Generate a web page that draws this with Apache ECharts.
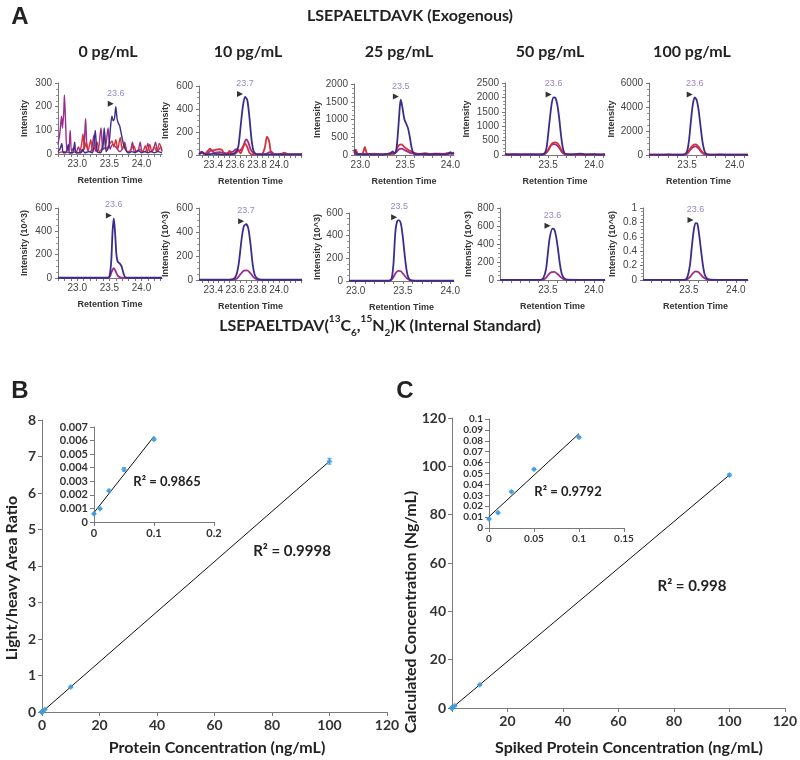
<!DOCTYPE html>
<html><head><meta charset="utf-8">
<script src="https://cdn.jsdelivr.net/npm/echarts@6/dist/echarts.min.js"></script>
<style>html,body{margin:0;padding:0;background:#fff}#c{width:800px;height:760px}</style>
</head><body><div id="c"></div>
<script>
// ================= DATA =================
const concTitles = ['0 pg/mL', '10 pg/mL', '25 pg/mL', '50 pg/mL', '100 pg/mL'];
const peakLabelsExo = ['23.6', '23.7', '23.5', '23.6', '23.6'];
const peakLabelsIS = ['23.6', '23.7', '23.5', '23.6', '23.6'];

// axis ranges (retention time) and tick labels
const xRangeExo = [[22.7, 24.32], [23.27, 24.21], [22.93, 24.04], [23.03, 24.12], [23.10, 24.14]];
const xRangeIS = [[22.7, 24.32], [23.27, 24.21], [22.93, 24.04], [22.98, 24.12], [23.01, 24.13]];
const xLabelsExo = [[23.0, 23.5, 24.0], [23.4, 23.6, 23.8, 24.0], [23.0, 23.5, 24.0], [23.5, 24.0], [23.5, 24.0]];
const xLabelsIS = [[23.0, 23.5, 24.0], [23.4, 23.6, 23.8, 24.0], [23.0, 23.5, 24.0], [23.5, 24.0], [23.5, 24.0]];
const yMaxExo = [300, 600, 2000, 2500, 6000];
const yIntExo = [100, 200, 500, 500, 2000];
const yMaxIS = [600, 600, 600, 800, 1];
const yIntIS = [200, 200, 200, 200, 0.2];
const yNameIS = ['Intensity (10^3)', 'Intensity (10^3)', 'Intensity (10^3)', 'Intensity (10^3)', 'Intensity (10^6)'];

// Exogenous traces [retention time, intensity]
const exo0Blue = [[22.70,10],[22.73,20],[22.76,45],[22.78,5],[22.82,5],[22.86,40],[22.88,5],[22.93,5],[22.96,50],[22.98,5],[23.05,5],[23.08,20],[23.12,5],[23.18,10],[23.24,5],[23.28,100],[23.31,10],[23.36,5],[23.40,30],[23.42,110],[23.45,10],[23.49,30],[23.52,120],[23.54,160],[23.56,140],[23.58,150],[23.60,200],[23.62,150],[23.64,130],[23.66,120],[23.69,80],[23.72,40],[23.75,20],[23.80,5],[23.85,10],[23.90,5],[23.95,15],[24.00,5],[24.05,10],[24.10,5],[24.15,10],[24.20,5],[24.25,10],[24.32,5]];
const exo0Red = [[22.70,5],[22.80,10],[22.90,5],[22.98,10],[23.02,5],[23.06,30],[23.09,85],[23.11,20],[23.14,50],[23.17,15],[23.21,60],[23.24,10],[23.28,30],[23.31,50],[23.34,10],[23.38,20],[23.42,90],[23.45,20],[23.50,40],[23.54,55],[23.57,30],[23.60,60],[23.63,20],[23.67,70],[23.70,20],[23.74,40],[23.78,10],[23.83,15],[23.88,35],[23.92,10],[23.97,20],[24.02,10],[24.06,35],[24.09,10],[24.13,40],[24.16,10],[24.20,30],[24.24,10],[24.28,45],[24.32,15]];
const exo0Purple = [[22.70,40],[22.73,90],[22.755,160],[22.77,110],[22.79,180],[22.80,250],[22.82,120],[22.84,15],[22.87,20],[22.89,100],[22.91,10],[22.95,30],[22.98,5],[23.02,30],[23.05,5],[23.10,20],[23.13,150],[23.15,30],[23.18,10],[23.22,15],[23.26,80],[23.29,10],[23.33,20],[23.37,110],[23.40,20],[23.44,30],[23.48,110],[23.51,20],[23.55,40],[23.60,30],[23.66,10],[23.70,20],[23.74,50],[23.77,10],[23.82,10],[23.86,50],[23.89,10],[23.94,10],[23.98,50],[24.01,10],[24.06,10],[24.10,45],[24.13,10],[24.18,15],[24.22,50],[24.25,10],[24.30,30],[24.32,10]];

const exo10Blue = [[23.27,5],[23.30,25],[23.33,5],[23.40,10],[23.50,5],[23.58,10],[23.61,30],[23.63,80],[23.65,250],[23.67,420],[23.69,505],[23.71,480],[23.73,330],[23.75,130],[23.77,30],[23.80,5],[23.90,5],[24.00,5],[24.10,5],[24.21,5]];
const exo10Red = [[23.27,5],[23.30,20],[23.32,5],[23.35,35],[23.37,55],[23.39,40],[23.42,45],[23.45,50],[23.48,45],[23.50,10],[23.53,15],[23.55,35],[23.57,5],[23.60,10],[23.63,35],[23.65,15],[23.67,60],[23.69,100],[23.71,70],[23.73,20],[23.76,5],[23.84,5],[23.87,60],[23.89,160],[23.91,120],[23.93,15],[23.97,5],[24.02,10],[24.05,20],[24.08,5],[24.21,5]];
const exo10Purple = [[23.27,10],[23.29,30],[23.31,10],[23.35,15],[23.38,40],[23.41,20],[23.46,25],[23.52,15],[23.58,30],[23.61,50],[23.64,40],[23.67,70],[23.70,135],[23.72,110],[23.74,50],[23.77,15],[23.82,5],[23.88,10],[23.93,30],[23.96,5],[24.05,5],[24.21,5]];

const exo25Blue = [[22.93,150],[22.95,60],[22.97,20],[23.00,30],[23.05,10],[23.10,25],[23.15,10],[23.20,20],[23.25,10],[23.30,30],[23.34,60],[23.36,100],[23.38,40],[23.40,150],[23.42,700],[23.44,1400],[23.45,1560],[23.47,1300],[23.49,1000],[23.51,880],[23.53,750],[23.55,500],[23.57,200],[23.59,50],[23.62,20],[23.70,30],[23.78,15],[23.85,30],[23.92,15],[23.98,40],[24.00,80],[24.02,50],[24.04,70]];
const exo25Red = [[22.93,60],[22.95,150],[22.97,40],[23.00,20],[23.03,60],[23.05,230],[23.07,60],[23.10,20],[23.15,40],[23.20,20],[23.30,30],[23.38,40],[23.41,200],[23.43,280],[23.46,300],[23.48,250],[23.50,200],[23.53,150],[23.57,100],[23.60,60],[23.65,30],[23.72,50],[23.78,30],[23.85,40],[23.92,30],[23.98,60],[24.02,30],[24.04,50]];
const exo25Purple = [[22.93,30],[22.98,20],[23.05,30],[23.12,15],[23.25,20],[23.35,30],[23.40,80],[23.43,160],[23.46,180],[23.49,140],[23.53,90],[23.57,50],[23.62,20],[23.70,15],[23.80,10],[23.90,20],[24.00,40],[24.04,30]];

const exo50Blue = [[23.03,40],[23.05,10],[23.10,20],[23.20,15],[23.30,25],[23.40,15],[23.45,30],[23.48,200],[23.50,700],[23.52,1300],[23.54,1800],[23.56,2000],[23.58,1980],[23.60,1750],[23.62,1300],[23.64,700],[23.66,250],[23.68,60],[23.72,20],[23.80,30],[23.85,50],[23.90,20],[24.00,30],[24.05,15],[24.12,25]];
const exo50Red = [[23.03,30],[23.10,15],[23.30,20],[23.45,30],[23.49,120],[23.52,300],[23.55,420],[23.58,440],[23.61,380],[23.64,200],[23.67,60],[23.70,20],[23.90,15],[24.12,20]];
const exo50Purple = [[23.03,20],[23.30,15],[23.46,30],[23.50,150],[23.53,320],[23.56,380],[23.59,360],[23.62,250],[23.65,100],[23.68,30],[23.75,10],[24.12,15]];

const exo100Blue = [[23.10,30],[23.20,20],[23.30,40],[23.40,20],[23.47,40],[23.50,300],[23.52,1200],[23.54,2800],[23.56,4200],[23.58,4800],[23.60,4600],[23.62,3800],[23.64,2500],[23.66,1200],[23.68,400],[23.70,100],[23.74,30],[23.85,40],[23.95,20],[24.05,30],[24.14,20]];
const exo100Red = [[23.10,20],[23.45,30],[23.50,150],[23.53,500],[23.56,800],[23.59,880],[23.62,700],[23.65,350],[23.68,100],[23.72,30],[24.14,20]];
const exo100Purple = [[23.10,15],[23.46,20],[23.50,100],[23.53,380],[23.56,650],[23.59,720],[23.62,550],[23.65,250],[23.68,70],[23.72,15],[24.14,15]];

// Internal standard traces
const is0Blue = [[22.70,2],[23.45,2],[23.50,10],[23.53,150],[23.55,400],[23.57,510],[23.59,380],[23.61,200],[23.63,140],[23.66,125],[23.69,100],[23.72,40],[23.75,5],[23.85,2],[24.32,2]];
const is0Purple = [[22.70,1],[23.47,1],[23.51,15],[23.54,60],[23.57,85],[23.60,55],[23.63,20],[23.67,5],[23.72,1],[24.32,1]];
const is10Blue = [[23.27,2],[23.55,3],[23.60,20],[23.63,120],[23.66,350],[23.68,450],[23.70,465],[23.72,430],[23.74,300],[23.76,130],[23.78,40],[23.81,8],[23.85,2],[24.21,2]];
const is10Purple = [[23.27,1],[23.58,2],[23.62,15],[23.65,50],[23.68,78],[23.71,80],[23.74,55],[23.77,22],[23.80,5],[23.85,1],[24.21,1]];
const is25Blue = [[22.93,2],[23.35,2],[23.38,20],[23.40,150],[23.42,430],[23.44,530],[23.46,535],[23.48,500],[23.50,380],[23.52,220],[23.54,90],[23.56,25],[23.59,5],[23.65,2],[24.04,2]];
const is25Purple = [[22.93,1],[23.36,2],[23.39,20],[23.42,65],[23.45,90],[23.48,85],[23.51,55],[23.54,25],[23.57,8],[23.62,1],[24.04,1]];
const is50Blue = [[22.98,2],[23.42,2],[23.45,20],[23.48,120],[23.50,300],[23.52,470],[23.55,570],[23.57,560],[23.59,480],[23.61,340],[23.63,180],[23.65,70],[23.68,15],[23.72,2],[24.12,2]];
const is50Purple = [[22.98,1],[23.44,2],[23.48,25],[23.51,65],[23.54,88],[23.57,90],[23.60,70],[23.63,40],[23.66,15],[23.70,3],[24.12,1]];
const is100Blue = [[23.01,0.003],[23.45,0.003],[23.48,0.03],[23.51,0.2],[23.53,0.45],[23.55,0.68],[23.57,0.79],[23.59,0.78],[23.61,0.62],[23.63,0.4],[23.65,0.2],[23.67,0.07],[23.70,0.015],[23.75,0.003],[24.13,0.003]];
const is100Purple = [[23.01,0.002],[23.47,0.003],[23.51,0.04],[23.54,0.09],[23.57,0.12],[23.60,0.11],[23.63,0.07],[23.66,0.03],[23.70,0.006],[24.13,0.002]];

// Calibration (B) and accuracy (C)
const concNg = [0, 0.01, 0.025, 0.05, 0.1, 1, 10, 100];
const ratioB = [0.0006, 0.00098, 0.0023, 0.00387, 0.0061, 0.068, 0.685, 6.87];
const ratioBErr = [0.00005, 0.00004, 0.00006, 0.00012, 0.00008, 0.004, 0.02, 0.08];
const calcC = [0.0083, 0.014, 0.0333, 0.054, 0.0832, 0.95, 9.6, 96.4];
const calcCErr = [0.0006, 0.0007, 0.0007, 0.0006, 0.0007, 0.03, 0.2, 0.5];
const r2Bmain = 'R² = 0.9998', r2Binset = 'R² = 0.9865';
const r2Cmain = 'R² = 0.998', r2Cinset = 'R² = 0.9792';

// ================= BUILD =================
const BLUE = '#3b2d8c', RED = '#d6303a', PURPLE = '#9c2c8e', DOT = '#3d9be0';
const SF = '"Liberation Sans", Arial, sans-serif';
const MF = 'Lato, "Open Sans", sans-serif';

const exoTraces = [
  [exo0Purple, exo0Red, exo0Blue], [exo10Purple, exo10Red, exo10Blue], [exo25Purple, exo25Red, exo25Blue],
  [exo50Purple, exo50Red, exo50Blue], [exo100Purple, exo100Red, exo100Blue]
];
const isTraces = [[is0Purple, is0Blue], [is10Purple, is10Blue], [is25Purple, is25Blue], [is50Purple, is50Blue], [is100Purple, is100Blue]];

const layoutExo = [[58, 83, 104, 71], [199, 86, 103, 69], [354, 84, 100, 71], [505, 83, 100, 72], [649, 83, 99, 72]];
const layoutIS = [[58, 208, 104, 70], [199, 208, 103, 72], [349, 213, 105, 68], [500, 208, 105, 72], [643, 208, 105, 72]];
const gapExo = [29, 29, 32, 34, 33], gapIS = [29, 29, 26, 27, 26];

const grids = [], xAxes = [], yAxes = [], series = [];

function tickVals(r, step) {
  const out = [];
  for (let v = Math.ceil(r[0] / step - 1e-9) * step; v <= r[1] + 1e-9; v += step) out.push(+v.toFixed(3));
  return out;
}

function addChrom(lay, xr, xl, ymax, yint, yName, gap, traces, colors, label, lw) {
  const i = grids.length;
  grids.push({ left: lay[0], top: lay[1], width: lay[2], height: lay[3] });
  const step = (xl.length > 3) ? 0.05 : 0.1;
  xAxes.push({
    type: 'value', gridIndex: i, min: xr[0], max: xr[1],
    axisLine: { lineStyle: { color: '#777', width: 1 } },
    axisTick: { customValues: tickVals(xr, step), length: 3, lineStyle: { color: '#777' } },
    axisLabel: { customValues: xl, formatter: v => v.toFixed(1), fontSize: 10, color: '#444', fontFamily: SF, margin: 5 },
    splitLine: { show: false },
    name: 'Retention Time', nameLocation: 'middle', nameGap: 22,
    nameTextStyle: { fontSize: 9, fontWeight: 'bold', color: '#333', fontFamily: SF }
  });
  yAxes.push({
    type: 'value', gridIndex: i, min: 0, max: ymax, interval: yint,
    axisLine: { show: true, lineStyle: { color: '#777', width: 1 } },
    axisTick: { show: true, length: 3, lineStyle: { color: '#777' } },
    minorTick: { show: true, splitNumber: 4, length: 2, lineStyle: { color: '#999' } },
    axisLabel: { fontSize: 10, color: '#444', fontFamily: SF, margin: 6, formatter: v => String(+v.toFixed(3)) },
    splitLine: { show: false },
    name: yName, nameLocation: 'middle', nameGap: gap,
    nameTextStyle: { fontSize: 9, fontWeight: 'bold', color: '#333', fontFamily: SF }
  });
  traces.forEach((d, k) => series.push({
    type: 'line', xAxisIndex: i, yAxisIndex: i, data: d, symbol: 'none', smooth: 0.25,
    lineStyle: { color: colors[k], width: lw }, z: 2 + k, animation: false
  }));
  const blue = traces[traces.length - 1];
  let apex = blue[0];
  blue.forEach(p => { if (p[1] > apex[1]) apex = p; });
  series.push({
    type: 'scatter', xAxisIndex: i, yAxisIndex: i, data: [apex], z: 10,
    symbol: 'triangle', symbolRotate: -90, symbolSize: [6, 6], symbolOffset: [-5, -3],
    itemStyle: { color: '#000' },
    label: { show: true, position: 'top', distance: 3, offset: [5, 0], formatter: label, fontSize: 9, color: '#7d68b5', fontFamily: SF },
    animation: false
  });
}

for (let k = 0; k < 5; k++) {
  addChrom(layoutExo[k], xRangeExo[k], xLabelsExo[k], yMaxExo[k], yIntExo[k], 'Intensity', gapExo[k],
    exoTraces[k], [PURPLE, RED, BLUE], peakLabelsExo[k], k === 0 ? 1.4 : 1.8);
}
for (let k = 0; k < 5; k++) {
  addChrom(layoutIS[k], xRangeIS[k], xLabelsIS[k], yMaxIS[k], yIntIS[k], yNameIS[k], gapIS[k],
    isTraces[k], [PURPLE, BLUE], peakLabelsIS[k], 1.8);
}

function linFit(xs, ys) {
  const n = xs.length;
  const mx = xs.reduce((a, b) => a + b, 0) / n, my = ys.reduce((a, b) => a + b, 0) / n;
  let sxy = 0, sxx = 0;
  for (let j = 0; j < n; j++) { sxy += (xs[j] - mx) * (ys[j] - my); sxx += (xs[j] - mx) ** 2; }
  const s = sxy / sxx; return [s, my - s * mx];
}

function errRender(params, api) {
  const x = api.value(0), lo = api.value(1), hi = api.value(2);
  const p1 = api.coord([x, lo]), p2 = api.coord([x, hi]);
  const st = { stroke: DOT, lineWidth: 1 };
  return {
    type: 'group', children: [
      { type: 'line', shape: { x1: p1[0], y1: p1[1], x2: p2[0], y2: p2[1] }, style: st },
      { type: 'line', shape: { x1: p1[0] - 2, y1: p1[1], x2: p1[0] + 2, y2: p1[1] }, style: st },
      { type: 'line', shape: { x1: p2[0] - 2, y1: p2[1], x2: p2[0] + 2, y2: p2[1] }, style: st }
    ]
  };
}

function addCal(lay, xmax, xint, ymax, yint, xs, ys, errs, fontSize, hideX0, lineTo) {
  const i = grids.length;
  grids.push({ left: lay[0], top: lay[1], width: lay[2], height: lay[3] });
  xAxes.push({
    type: 'value', gridIndex: i, min: 0, max: xmax, interval: xint,
    axisLine: { onZero: false, lineStyle: { color: '#7a7a7a', width: 1 } },
    axisTick: { length: 4, lineStyle: { color: '#7a7a7a' } },
    axisLabel: { fontSize: fontSize, fontWeight: 'bold', color: '#333', fontFamily: MF, margin: 6,
      formatter: v => (hideX0 && v === 0) ? '' : String(+v.toFixed(4)) },
    splitLine: { show: false }
  });
  yAxes.push({
    type: 'value', gridIndex: i, min: 0, max: ymax, interval: yint,
    axisLine: { show: true, onZero: false, lineStyle: { color: '#7a7a7a', width: 1 } },
    axisTick: { show: true, length: 4, lineStyle: { color: '#7a7a7a' } },
    axisLabel: { fontSize: fontSize, fontWeight: 'bold', color: '#333', fontFamily: MF, margin: 6,
      formatter: v => String(+v.toFixed(4)) },
    splitLine: { show: false }
  });
  const fit = linFit(xs, ys);
  series.push({
    type: 'line', xAxisIndex: i, yAxisIndex: i, symbol: 'none', animation: false, z: 3,
    data: [[0, fit[1]], [lineTo, fit[0] * lineTo + fit[1]]],
    lineStyle: { color: '#111', width: 1 }
  });
  series.push({
    type: 'custom', xAxisIndex: i, yAxisIndex: i, renderItem: errRender, animation: false, z: 4,
    data: xs.map((x, j) => [x, ys[j] - errs[j], ys[j] + errs[j]])
  });
  series.push({
    type: 'scatter', xAxisIndex: i, yAxisIndex: i, symbol: 'diamond', symbolSize: 6, animation: false, z: 5,
    data: xs.map((x, j) => [x, ys[j]]), itemStyle: { color: DOT }
  });
}

const nIn = 5;
addCal([42, 420, 345, 292], 120, 20, 8, 1, concNg, ratioB, ratioBErr, 14, false, 100);
addCal([94, 427, 120, 95], 0.2, 0.1, 0.007, 0.001, concNg.slice(0, nIn), ratioB.slice(0, nIn), ratioBErr.slice(0, nIn), 11, false, 0.1);
addCal([452, 418, 337, 290], 120, 20, 120, 20, concNg, calcC, calcCErr, 14, true, 100);
addCal([489, 419, 135, 109], 0.15, 0.05, 0.1, 0.01, concNg.slice(0, nIn), calcC.slice(0, nIn), calcCErr.slice(0, nIn), 10, false, 0.1);

function txt(x, y, text, font, extra) {
  return Object.assign({ type: 'text', x: x, y: y, silent: true,
    style: { text: text, font: font, fill: '#222', textAlign: 'center', textVerticalAlign: 'middle' } }, extra || {});
}
const graphics = [
  txt(20, 17, 'A', 'bold 24px "Liberation Sans", Arial'),
  txt(410, 16, 'LSEPAELTDAVK (Exogenous)', 'bold 16px ' + MF),
  txt(20, 391, 'B', 'bold 24px "Liberation Sans", Arial'),
  txt(405, 391, 'C', 'bold 24px "Liberation Sans", Arial'),
  txt(217, 748, 'Protein Concentration (ng/mL)', 'bold 16px ' + MF),
  txt(629, 748, 'Spiked Protein Concentration (ng/mL)', 'bold 16px ' + MF),
  txt(12, 578, 'Light/heavy Area Ratio', 'bold 16px ' + MF, { rotation: Math.PI / 2 }),
  txt(411, 612, 'Calculated Concentration (Ng/mL)', 'bold 16px ' + MF, { rotation: Math.PI / 2 }),
  txt(292, 551, r2Bmain, 'bold 15px ' + MF),
  txt(167, 482, r2Binset, 'bold 13px ' + MF),
  txt(692, 586, r2Cmain, 'bold 15px ' + MF),
  txt(568, 492, r2Cinset, 'bold 13px ' + MF)
];
const colX = [108, 248, 399, 550, 692];
concTitles.forEach((t, k) => graphics.push(txt(colX[k], 52, t, 'bold 16px ' + MF)));
graphics.push({
  type: 'text', x: 380, y: 326, silent: true,
  style: {
    text: '{n|LSEPAELTDAV(}{sup|13}{n|C}{sub|6}{n|,}{sup|15}{n|N}{sub|2}{n|)K (Internal Standard)}',
    textAlign: 'center', textVerticalAlign: 'middle', fill: '#222',
    rich: {
      n: { fontSize: 16, fontWeight: 'bold', fontFamily: MF, lineHeight: 24, fill: '#222', verticalAlign: 'middle' },
      sup: { fontSize: 10, fontWeight: 'bold', fontFamily: MF, lineHeight: 12, fill: '#222', verticalAlign: 'top' },
      sub: { fontSize: 10, fontWeight: 'bold', fontFamily: MF, lineHeight: 12, fill: '#222', verticalAlign: 'bottom' }
    }
  }
});

const chart = echarts.init(document.getElementById('c'), null, { renderer: 'canvas' });
chart.setOption({
  backgroundColor: '#fff', animation: false,
  grid: grids, xAxis: xAxes, yAxis: yAxes, series: series, graphic: graphics
});
</script></body></html>
